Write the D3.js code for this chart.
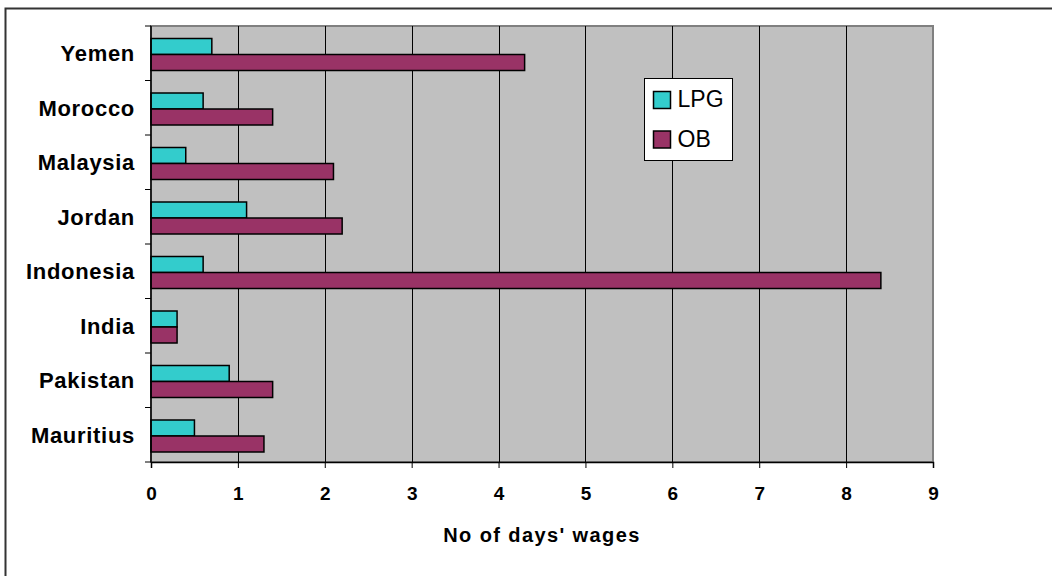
<!DOCTYPE html>
<html>
<head>
<meta charset="utf-8">
<script src="https://cdn.jsdelivr.net/npm/d3@7"></script>
<style>
  html, body { margin: 0; padding: 0; background: #fff; }
  svg { display: block; font-family: Arial, "Liberation Sans", sans-serif; }
</style>
</head>
<body>
<script>
// data, top to bottom as drawn
const countries = ["Yemen", "Morocco", "Malaysia", "Jordan", "Indonesia", "India", "Pakistan", "Mauritius"];
const lpgValues = [0.7, 0.6, 0.4, 1.1, 0.6, 0.3, 0.9, 0.5];
const obValues = [4.3, 1.4, 2.1, 2.2, 8.4, 0.3, 1.4, 1.3];
const seriesNames = ["LPG", "OB"];
const seriesColors = ["#33CCCC", "#993366"];
const xTicks = [0, 1, 2, 3, 4, 5, 6, 7, 8, 9];

const width = 1052;
const height = 576;
const plot = { left: 151, top: 26, right: 933, bottom: 462 };

const svg = d3.select("body").append("svg").attr("width", width).attr("height", height);

// outer chart frame (runs off the right and bottom edges)
svg.append("rect")
  .attr("x", 5.5).attr("y", 8.5)
  .attr("width", 1100).attr("height", 600)
  .attr("fill", "none").attr("stroke", "#333").attr("stroke-width", 2);

const x = d3.scaleLinear().domain([0, 9]).range([plot.left, plot.right]);
const y = d3.scaleBand().domain(countries).range([plot.top, plot.bottom]);
const inner = d3.scaleBand().domain(seriesNames).range([12.5, 44.5]);

// plot background
svg.append("rect")
  .attr("x", plot.left).attr("y", plot.top)
  .attr("width", plot.right - plot.left).attr("height", plot.bottom - plot.top)
  .attr("fill", "#C0C0C0").attr("stroke", "#808080").attr("stroke-width", 2);

// gridlines
svg.append("g")
  .selectAll("line")
  .data(xTicks.slice(1, -1))
  .join("line")
  .attr("x1", (d) => Math.round(x(d)) + 0.5).attr("x2", (d) => Math.round(x(d)) + 0.5)
  .attr("y1", plot.top).attr("y2", plot.bottom)
  .attr("stroke", "#000").attr("stroke-width", 1);

// bars
const rows = countries.map((c, i) => ({ name: c, values: [lpgValues[i], obValues[i]] }));
const groups = svg.append("g")
  .selectAll("g")
  .data(rows)
  .join("g")
  .attr("transform", (d) => `translate(0, ${y(d.name)})`);

groups.selectAll("rect")
  .data((d) => d.values.map((v, j) => ({ series: seriesNames[j], value: v, color: seriesColors[j] })))
  .join("rect")
  .attr("x", x(0))
  .attr("y", (d) => inner(d.series))
  .attr("width", (d) => x(d.value) - x(0))
  .attr("height", inner.bandwidth())
  .attr("fill", (d) => d.color)
  .attr("stroke", "#000").attr("stroke-width", 1.5);

// x axis
const xAxis = svg.append("g")
  .attr("transform", `translate(0, ${plot.bottom})`)
  .call(d3.axisBottom(x).tickValues(xTicks).tickSize(6).tickPadding(19).tickFormat(d3.format("d")));
xAxis.select(".domain").attr("stroke", "#000").attr("stroke-width", 1.5);
xAxis.selectAll(".tick line").attr("stroke", "#000");
xAxis.selectAll("text")
  .style("font-family", "Arial, 'Liberation Sans', sans-serif")
  .style("font-size", "19px").style("font-weight", "bold").attr("fill", "#000");

// y axis (category ticks at band boundaries)
svg.append("line")
  .attr("x1", plot.left).attr("x2", plot.left)
  .attr("y1", plot.top).attr("y2", plot.bottom)
  .attr("stroke", "#000").attr("stroke-width", 1.5);
svg.append("g")
  .selectAll("line")
  .data(countries.concat(["end"]))
  .join("line")
  .attr("x1", plot.left - 6).attr("x2", plot.left)
  .attr("y1", (d, i) => plot.top + i * y.step())
  .attr("y2", (d, i) => plot.top + i * y.step())
  .attr("stroke", "#000");

svg.append("g")
  .selectAll("text")
  .data(countries)
  .join("text")
  .attr("x", 135)
  .attr("y", (d) => y(d) + y.bandwidth() / 2 + 8)
  .attr("text-anchor", "end")
  .attr("font-size", 22).attr("font-weight", "bold")
  .attr("letter-spacing", 0.7)
  .text((d) => d);

// axis title
svg.append("text")
  .attr("x", (plot.left + plot.right) / 2)
  .attr("y", 542)
  .attr("text-anchor", "middle")
  .attr("font-size", 20).attr("font-weight", "bold")
  .attr("letter-spacing", 1.4)
  .text("No of days' wages");

// legend
const legend = svg.append("g").attr("transform", "translate(644.5, 78.5)");
legend.append("rect")
  .attr("width", 88).attr("height", 82)
  .attr("fill", "#fff").attr("stroke", "#000").attr("stroke-width", 1);
const items = legend.selectAll("g")
  .data(seriesNames)
  .join("g")
  .attr("transform", (d, i) => `translate(9, ${13 + i * 39.5})`);
items.append("rect")
  .attr("width", 17).attr("height", 17)
  .attr("fill", (d, i) => seriesColors[i])
  .attr("stroke", "#000").attr("stroke-width", 1.5);
items.append("text")
  .attr("x", 24).attr("y", 15.5)
  .attr("font-size", 23)
  .text((d) => d);
</script>
</body>
</html>
